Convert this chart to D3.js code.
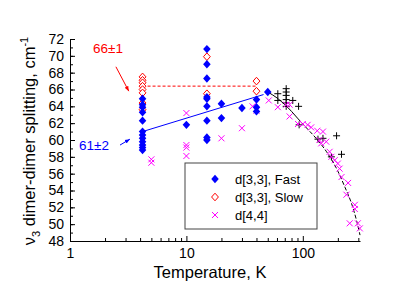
<!DOCTYPE html>
<html>
<head>
<meta charset="utf-8">
<script src="https://cdn.jsdelivr.net/npm/d3@7"></script>
<style>
  body { margin: 0; background: #fff; }
  text { font-family: Arial, "Liberation Sans", sans-serif; }
</style>
</head>
<body>
<svg id="chart" width="415" height="289"></svg>
<script>
// [T (K), splitting (cm-1)]
const fastPoints = [
  [4.2, 64.9], [4.2, 64.2], [4.2, 63.9], [4.2, 63.3], [4.2, 62.3], [4.2, 61.0],
  [4.2, 60.6], [4.2, 60.2], [4.2, 59.8], [4.2, 59.4], [4.2, 59.1], [4.2, 58.8],
  [10, 61.8],
  [15, 70.8], [15, 69.0], [15, 67.3], [15, 65.1], [15, 64.9], [15, 64.0],
  [15, 62.3], [15, 60.3], [15, 60.0],
  [20, 64.3], [20, 62.6], [30, 63.8],
  [40, 64.8], [40, 63.9], [40, 63.4], [50, 65.7]
]
const slowPoints = [
  [4.2, 67.5], [4.2, 67.1], [4.2, 66.8], [4.2, 66.4], [4.2, 66.0], [4.2, 65.6],
  [4.2, 64.4], [4.2, 63.6],
  [15, 69.9], [15, 65.5],
  [40, 67.0], [40, 65.8]
]
const d44Points = [
  [5, 57.7], [5, 57.3], [10, 63.2], [10, 59.4], [10, 59.1], [10, 58.1],
  [20, 60.2], [30, 61.4], [37, 64.0], [40, 63.5], [51, 64.7], [61, 63.9],
  [72, 64.2], [77, 64.2], [77, 62.8], [91, 61.9], [100, 61.9], [110, 61.8],
  [118, 61.5], [133, 61.1], [149, 61.0], [139, 60.0], [144, 59.6], [159, 59.8],
  [170, 58.6], [176, 58.0], [188, 57.6], [200, 57.2], [207, 56.6], [215, 55.6],
  [245, 54.9], [237, 53.5], [280, 52.3], [280, 51.8], [253, 50.1], [297, 50.1],
  [309, 49.5]
]
const otherPoints = [
  [61, 65.5], [61, 64.7], [72, 66.1], [72, 65.7], [72, 65.3], [72, 64.8],
  [72, 64.4], [72, 64.0], [82, 64.7], [92, 64.0], [93, 61.8], [135, 60.1],
  [149, 60.2], [176, 58.0], [195, 60.5], [215, 58.3]
]
const fitSolid = [[50, 65.7], [60, 65.0], [70, 64.2], [80, 63.4], [90, 62.6]]
const fitDashed = [[90, 62.6], [100, 61.9], [130, 60.2], [160, 58.6], [200, 56.3],
  [230, 54.4], [260, 52.6], [290, 50.4], [310, 48.7]]
const fastLine = [[4.2, 61.0], [46, 65.4]]
const slowLine = [[4.2, 66.4], [40, 66.4]]

const yTicks = d3.range(48, 73, 2)
const yMinor = d3.range(48, 73, 1)
const xTicks = [1, 10, 100]
const xMinor = [2, 3, 4, 5, 6, 7, 8, 9, 20, 30, 40, 50, 60, 70, 80, 90, 200, 300]

const annotations = [
  { text: '66\u00b11', color: '#ff0000', at: [2.12, 70.3], from: [2.48, 68.7], to: [3.2, 65.8] },
  { text: '61\u00b12', color: '#0000ff', at: [1.61, 58.8], from: [2.69, 59.4], to: [3.27, 60.1] }
]

const legendItems = [
  { label: 'd[3,3], Fast', kind: 'fast' },
  { label: 'd[3,3], Slow', kind: 'slow' },
  { label: 'd[4,4]', kind: 'd44' }
]

const svg = d3.select('#chart')
const x = d3.scaleLog().domain([1, 310]).range([70, 360])
const y = d3.scaleLinear().domain([48, 72]).range([241, 39])

// axes, ticks pointing inwards
svg.append('g')
  .attr('transform', 'translate(0,241)')
  .call(d3.axisBottom(x).tickValues(xMinor).tickSize(-3).tickSizeOuter(0).tickFormat(''))
  .call(g => g.select('.domain').remove())
svg.append('g')
  .attr('transform', 'translate(0,241)')
  .call(d3.axisBottom(x).tickValues(xTicks).tickSize(-5).tickSizeOuter(0).tickPadding(7).tickFormat(d3.format('d')))
  .call(g => g.selectAll('text').attr('font-size', 14).attr('fill', '#000'))
svg.append('g')
  .attr('transform', 'translate(70,0)')
  .call(d3.axisLeft(y).tickValues(yMinor).tickSize(-3).tickSizeOuter(0).tickFormat(''))
  .call(g => g.select('.domain').remove())
svg.append('g')
  .attr('transform', 'translate(70,0)')
  .call(d3.axisLeft(y).tickValues(yTicks).tickSize(-5).tickSizeOuter(0).tickPadding(6))
  .call(g => g.selectAll('text').attr('font-size', 14).attr('fill', '#000'))

// axis titles
svg.append('text')
  .attr('x', 210).attr('y', 278)
  .attr('text-anchor', 'middle')
  .attr('font-size', 16.5)
  .text('Temperature, K')

const yl = svg.append('text')
  .attr('transform', 'translate(35,141) rotate(-90)')
  .attr('text-anchor', 'middle')
  .attr('font-size', 16.5)
yl.append('tspan').text('\u03bd')
yl.append('tspan').attr('dy', 5).attr('font-size', 11).text('3')
yl.append('tspan').attr('dy', -5).text(' dimer-dimer splitting, cm')
yl.append('tspan').attr('dy', -7).attr('font-size', 11).text('-1')

// lines
const line = d3.line().x(d => x(d[0])).y(d => y(d[1]))
svg.append('path').attr('d', line(fastLine)).attr('fill', 'none').attr('stroke', '#0000ff').attr('stroke-width', 1)
svg.append('path').attr('d', line(slowLine)).attr('fill', 'none').attr('stroke', '#ff0000')
  .attr('stroke-width', 1).attr('stroke-dasharray', '3,2')
const curve = d3.line().curve(d3.curveMonotoneX).x(d => x(d[0])).y(d => y(d[1]))
svg.append('path').attr('d', curve(fitSolid)).attr('fill', 'none').attr('stroke', '#000').attr('stroke-width', 1)
svg.append('path').attr('d', curve(fitDashed)).attr('fill', 'none').attr('stroke', '#000')
  .attr('stroke-width', 1).attr('stroke-dasharray', '4,2')

// markers
const diamond = r => `M0,${-r}L${r * 0.9},0L0,${r}L${-r * 0.9},0Z`
function marker(g, kind) {
  if (kind === 'fast') {
    g.append('path').attr('d', diamond(4.2)).attr('fill', '#0000ff')
  } else if (kind === 'slow') {
    g.append('path').attr('d', diamond(3.8)).attr('fill', '#fff').attr('stroke', '#ff0000').attr('stroke-width', 1)
  } else if (kind === 'd44') {
    g.append('path').attr('d', 'M-3,-3L3,3M-3,3L3,-3').attr('stroke', '#ff00ff').attr('stroke-width', 1)
  } else {
    g.append('path').attr('d', 'M-3.5,0L3.5,0M0,-3.5L0,3.5').attr('stroke', '#000').attr('stroke-width', 1)
  }
}
function drawSeries(points, kind) {
  svg.append('g').selectAll('g')
    .data(points)
    .join('g')
    .attr('transform', d => `translate(${x(d[0])},${y(d[1])})`)
    .each(function() { marker(d3.select(this), kind) })
}
drawSeries(otherPoints, 'other')
drawSeries(d44Points, 'd44')
drawSeries(slowPoints, 'slow')
drawSeries(fastPoints, 'fast')

// annotations
const defs = svg.append('defs')
annotations.forEach((a, i) => {
  defs.append('marker')
    .attr('id', 'arr' + i)
    .attr('viewBox', '0 0 10 10')
    .attr('refX', 10).attr('refY', 5)
    .attr('markerWidth', 5).attr('markerHeight', 5)
    .attr('orient', 'auto')
    .append('path').attr('d', 'M0,1L10,5L0,9Z').attr('fill', a.color)
  svg.append('line')
    .attr('x1', x(a.from[0])).attr('y1', y(a.from[1]))
    .attr('x2', x(a.to[0])).attr('y2', y(a.to[1]))
    .attr('stroke', a.color).attr('stroke-width', 1)
    .attr('marker-end', `url(#arr${i})`)
  svg.append('text')
    .attr('x', x(a.at[0])).attr('y', y(a.at[1]))
    .attr('text-anchor', 'middle')
    .attr('font-size', 13.5)
    .attr('fill', a.color)
    .text(a.text)
})

// legend
const lg = svg.append('g').attr('transform', 'translate(185,163)')
lg.append('rect').attr('width', 132).attr('height', 66)
  .attr('fill', '#fff').attr('stroke', '#444').attr('stroke-width', 1)
legendItems.forEach((it, i) => {
  const row = lg.append('g').attr('transform', `translate(30,${16 + i * 18})`)
  marker(row, it.kind)
  row.append('text').attr('x', 20).attr('y', 5).attr('font-size', 13).text(it.label)
})
</script>
</body>
</html>
